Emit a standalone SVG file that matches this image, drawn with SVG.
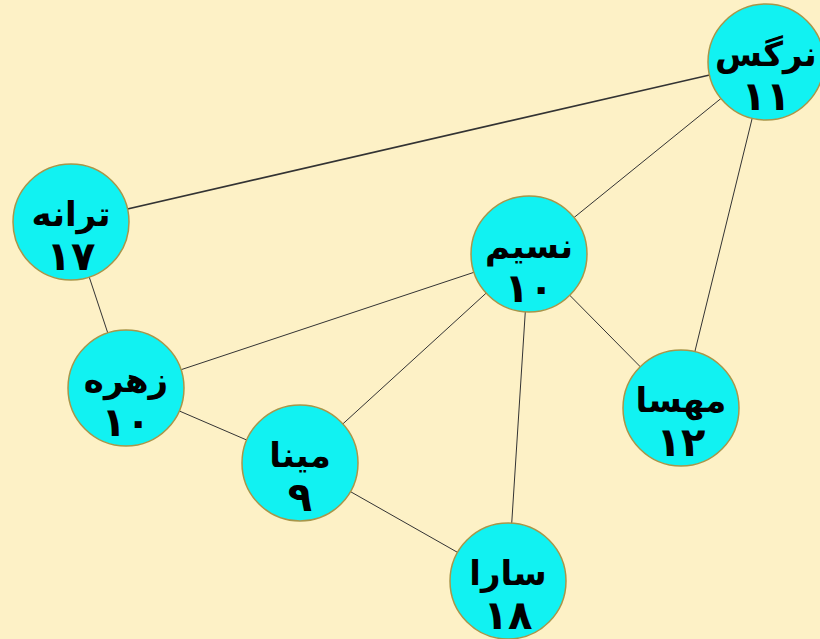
<svg xmlns="http://www.w3.org/2000/svg" width="820" height="639" viewBox="0 0 820 639">
<style>
.bg{fill:#fdf1c6}
.n circle{fill:#11f2f2;stroke:#a8964a;stroke-width:1.5}
.n text{font-family:"DejaVu Sans",sans-serif;font-weight:bold;fill:#000;text-anchor:middle}
.n .nm{font-size:34px}
.n .dg{font-size:40px}
.e line{stroke:#333;stroke-width:1}
</style>
<rect class="bg" width="820" height="639"/>
<g id="edges" class="e">
<line x1="766" y1="62" x2="71" y2="222" style="stroke-width:1.6"/>
<line x1="766" y1="62" x2="529" y2="254"/>
<line x1="766" y1="62" x2="681" y2="408"/>
<line x1="71" y1="222" x2="126" y2="388"/>
<line x1="529" y1="254" x2="126" y2="388"/>
<line x1="529" y1="254" x2="300" y2="463"/>
<line x1="529" y1="254" x2="508" y2="581"/>
<line x1="529" y1="254" x2="681" y2="408"/>
<line x1="126" y1="388" x2="300" y2="463"/>
<line x1="300" y1="463" x2="508" y2="581"/>
</g>
<g id="n-narges" class="n"><circle cx="766" cy="62" r="58"/><text class="nm" x="766" y="66">نرگس</text><text class="dg" x="766" y="110">۱۱</text></g>
<g id="n-taraneh" class="n"><circle cx="71" cy="222" r="58"/><text class="nm" x="71" y="226">ترانه</text><text class="dg" x="71" y="270">۱۷</text></g>
<g id="n-nasim" class="n"><circle cx="529" cy="254" r="58"/><text class="nm" x="529" y="258">نسیم</text><text class="dg" x="529" y="302">۱۰</text></g>
<g id="n-zohreh" class="n"><circle cx="126" cy="388" r="58"/><text class="nm" x="126" y="392">زهره</text><text class="dg" x="126" y="436">۱۰</text></g>
<g id="n-mahsa" class="n"><circle cx="681" cy="408" r="58"/><text class="nm" x="681" y="412">مهسا</text><text class="dg" x="681" y="456">۱۲</text></g>
<g id="n-mina" class="n"><circle cx="300" cy="463" r="58"/><text class="nm" x="300" y="467">مینا</text><text class="dg" x="300" y="511">۹</text></g>
<g id="n-sara" class="n"><circle cx="508" cy="581" r="58"/><text class="nm" x="508" y="585">سارا</text><text class="dg" x="508" y="629">۱۸</text></g>
</svg>
